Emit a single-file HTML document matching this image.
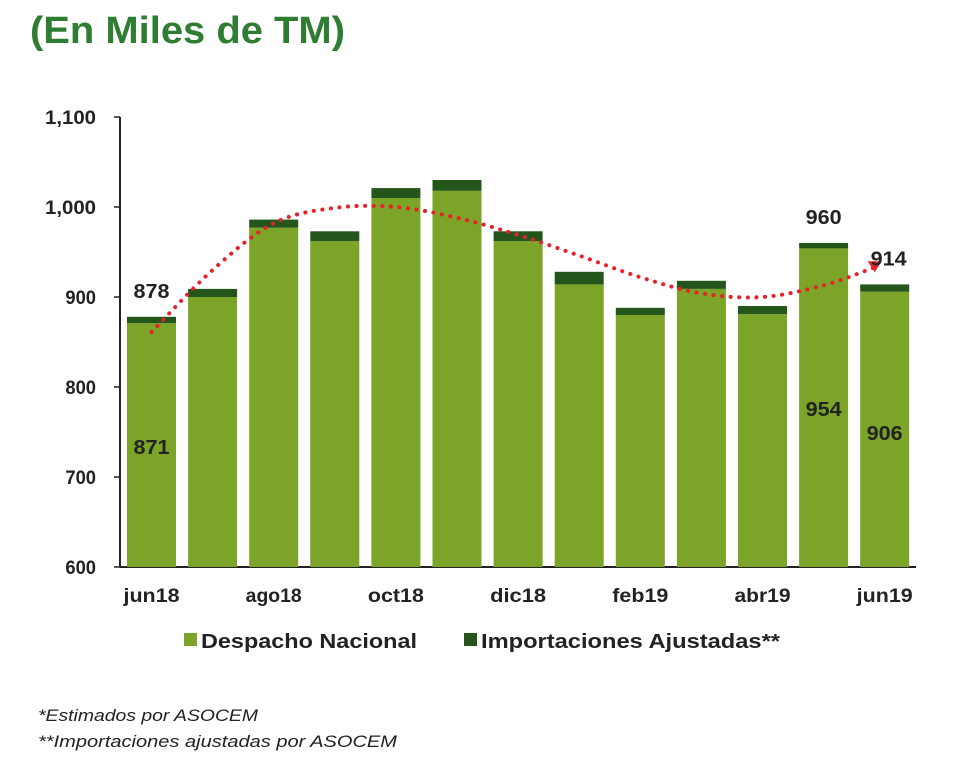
<!DOCTYPE html>
<html><head><meta charset="utf-8"><style>
body{margin:0;background:#fff;width:980px;height:775px;overflow:hidden;font-family:"Liberation Sans",Arial,sans-serif}
</style></head><body>
<svg width="980" height="775" xmlns="http://www.w3.org/2000/svg">
<text x="30" y="43" font-size="38" font-weight="bold" fill="#2e7d32" textLength="315" lengthAdjust="spacingAndGlyphs">(En Miles de TM)</text>
<g id="axes"></g>
<g id="bars"></g>
<g id="trend"></g>
<g id="labels"></g>
<g>
<rect x="184" y="633" width="13" height="13" fill="#7ba428"/>
<text x="201" y="648" font-size="20" font-weight="bold" fill="#222" textLength="216" lengthAdjust="spacingAndGlyphs">Despacho Nacional</text>
<rect x="464" y="633" width="13" height="13" fill="#24561c"/>
<text x="481" y="648" font-size="20" font-weight="bold" fill="#222" textLength="299" lengthAdjust="spacingAndGlyphs">Importaciones Ajustadas**</text>
</g>
<text x="38" y="721" font-size="17" font-style="italic" fill="#222" textLength="220" lengthAdjust="spacingAndGlyphs">*Estimados por ASOCEM</text>
<text x="38" y="747" font-size="17" font-style="italic" fill="#222" textLength="359" lengthAdjust="spacingAndGlyphs">**Importaciones ajustadas por ASOCEM</text>
</svg>
<script>
const categories=["jun18","jul18","ago18","sep18","oct18","nov18","dic18","ene19","feb19","mar19","abr19","may19","jun19"];
const despacho=[871,900,977,962,1010,1018,962,914,880,909,881,954,906];
const totals=[878,909,986,973,1021,1030,973,928,888,918,890,960,914];
const trend=[861,930,982,999,1000,988,969,946,922,904,900,913,933];
const yTicks=[600,700,800,900,1000,1100];
const yTickLabels=["600","700","800","900","1,000","1,100"];
const xLabelIdx=[0,2,4,6,8,10,12];
const valueLabels=[{i:0,v:"878",top:true},{i:0,v:"871",top:false},{i:11,v:"960",top:true},{i:11,v:"954",top:false},{i:12,v:"914",top:true},{i:12,v:"906",top:false}];
const NS="http://www.w3.org/2000/svg";
const y=v=>567-(v-600)*0.9;
const x=i=>127+i*61.1;
const bw=49;
function mk(t,a,p){const e=document.createElementNS(NS,t);for(const k in a)e.setAttribute(k,a[k]);p.appendChild(e);return e;}
const ax=document.getElementById('axes');
let l=mk('line',{x1:120,y1:117,x2:120,y2:567,stroke:'#222','stroke-width':2},ax);

l=mk('line',{x1:120,y1:567,x2:916,y2:567,stroke:'#222','stroke-width':2},ax);

yTicks.forEach((t,k)=>{mk('line',{x1:114,y1:y(t),x2:120,y2:y(t),stroke:'#222','stroke-width':1.5},ax);
const s=yTickLabels[k];
const tx=mk('text',{x:96,y:y(t)+7,'font-size':19,'font-weight':'bold','text-anchor':'end',fill:'#222',textLength:s.length*10.2,lengthAdjust:'spacingAndGlyphs'},ax);tx.textContent=s;
});
xLabelIdx.forEach(i=>{const tx=mk('text',{x:x(i)+bw/2,y:602,'font-size':19,'font-weight':'bold','text-anchor':'middle',fill:'#222',textLength:56,lengthAdjust:'spacingAndGlyphs'},ax);tx.textContent=categories[i];
});
const bg=document.getElementById('bars');
categories.forEach((c,i)=>{
const r1=mk('rect',{x:x(i),y:y(despacho[i]),width:bw,height:567-y(despacho[i]),fill:'#7ba428'},bg);

const r2=mk('rect',{x:x(i),y:y(totals[i]),width:bw,height:y(despacho[i])-y(totals[i]),fill:'#24561c'},bg);
});
const tg=document.getElementById('trend');
const pts=trend.map((v,i)=>[x(i)+bw/2-(i==12?10:0),y(v)]);
let d='M'+pts[0][0]+','+pts[0][1];
for(let i=0;i<pts.length-1;i++){const p0=pts[Math.max(0,i-1)],p1=pts[i],p2=pts[i+1],p3=pts[Math.min(pts.length-1,i+2)];
d+=' C'+(p1[0]+(p2[0]-p0[0])/6)+','+(p1[1]+(p2[1]-p0[1])/6)+' '+(p2[0]-(p3[0]-p1[0])/6)+','+(p2[1]-(p3[1]-p1[1])/6)+' '+p2[0]+','+p2[1];}
const tp=mk('path',{d:d,fill:'none',stroke:'#e8202a','stroke-width':4,'stroke-dasharray':'0.1 8.5','stroke-linecap':'round'},tg);

const lp=pts[pts.length-1];
const ar=mk('path',{d:`M${lp[0]-7},${lp[1]-6} L${lp[0]+7},${lp[1]-6} L${lp[0]},${lp[1]+5} Z`,fill:'#e8202a'},tg);

const lg=document.getElementById('labels');
valueLabels.forEach(o=>{const i=o.i;const yy=o.top?y(totals[i])-19:(i==0?454:(i==11?416:440));
const tx=mk('text',{x:x(i)+bw/2+(o.top&&i==12?4:0),y:yy,'font-size':20,'font-weight':'bold','text-anchor':'middle',fill:'#222',textLength:36,lengthAdjust:'spacingAndGlyphs'},lg);tx.textContent=o.v;
});
</script>
</body></html>
